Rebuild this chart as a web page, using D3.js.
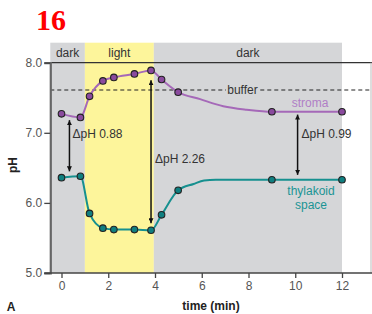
<!DOCTYPE html>
<html><head><meta charset="utf-8">
<script src="https://cdn.jsdelivr.net/npm/d3@7/dist/d3.min.js"></script>
<style>body{margin:0;background:#fff}svg{display:block}</style>
</head><body>
<svg id="c" width="372" height="314" font-family="Liberation Sans, Arial, sans-serif"></svg>
<script>
// measured points (markers)
const timeMin = [0, 0.81, 1.2, 1.77, 2.24, 3.12, 3.83, 4.28, 4.99, 9, 12];
const stromaPH = [7.27, 7.22, 7.52, 7.74, 7.79, 7.84, 7.89, 7.76, 7.58, 7.30, 7.30];
const thylakoidPH = [6.36, 6.38, 5.85, 5.64, 5.62, 5.62, 5.61, 5.83, 6.18, 6.33, 6.33];
// extra points (no markers there)
const stromaTraceTime = [5.93, 6.92, 7.92];
const stromaTracePH = [7.48, 7.38, 7.33];
const thylakoidTraceTime = [5.65, 6.1, 6.6];
const thylakoidTracePH = [6.27, 6.32, 6.33];
const xTicks = [0, 2, 4, 6, 8, 10, 12];
const yTicks = [5, 6, 7, 8];
const bufferPH = 7.61;
const periods = [
  {label: "dark", start: -0.48, end: 1.0},
  {label: "light", start: 1.0, end: 3.95},
  {label: "dark", start: 3.95, end: 12}
];
const deltaArrows = [
  {x: 0.34, low: 6.45, high: 7.18, label: "\u0394pH 0.88"},
  {x: 3.83, low: 5.71, high: 7.75, label: "\u0394pH 2.26"},
  {x: 10.1, low: 6.40, high: 7.26, label: "\u0394pH 0.99"}
];

const svg = d3.select("#c");
const x = d3.scaleLinear().domain([0, 12]).range([61.5, 342]);
const y = d3.scaleLinear().domain([5, 8]).range([273, 62.7]);
const xLeft = x(-0.48), xRight = 372, bandTop = 42.7;

svg.selectAll("rect.band").data(periods).join("rect")
  .attr("x", d => x(d.start)).attr("width", d => x(d.end) - x(d.start))
  .attr("y", bandTop).attr("height", y(5) - bandTop)
  .attr("fill", d => d.label === "light" ? "#fdf59b" : "#d5d6d8");
svg.selectAll("text.band").data(periods).join("text")
  .attr("x", d => (x(d.start) + x(d.end)) / 2).attr("y", 57)
  .attr("text-anchor", "middle").attr("font-size", 12).attr("fill", "#333")
  .text(d => d.label);

svg.append("line").attr("x1", xLeft).attr("x2", xRight).attr("y1", y(8)).attr("y2", y(8))
  .attr("stroke", "#333").attr("stroke-width", 1.2);
svg.append("line").attr("x1", 371).attr("x2", 371).attr("y1", y(8)).attr("y2", y(5))
  .attr("stroke", "#bbb").attr("stroke-width", 1);

svg.append("line").attr("x1", xLeft).attr("x2", xRight).attr("y1", y(bufferPH)).attr("y2", y(bufferPH))
  .attr("stroke", "#222").attr("stroke-width", 1.1).attr("stroke-dasharray", "4,3");
svg.append("rect").attr("x", 226).attr("y", y(bufferPH) - 6).attr("width", 33).attr("height", 12).attr("fill", "#d5d6d8");
svg.append("text").attr("x", 242.5).attr("y", y(bufferPH) + 4).attr("text-anchor", "middle")
  .attr("font-size", 12).attr("fill", "#333").text("buffer");

const yAxis = svg.append("g").attr("transform", `translate(${xLeft},0)`)
  .call(d3.axisLeft(y).tickValues(yTicks).tickFormat(d3.format(".1f")).tickSize(6).tickPadding(2));
yAxis.attr("font-family", null);
yAxis.select(".domain").attr("stroke", "#666").attr("stroke-width", 2.2);
yAxis.selectAll(".tick line").attr("stroke", "#444").attr("stroke-width", 1.3);
yAxis.selectAll(".tick text").attr("font-size", 12).attr("fill", "#555");

const xAxis = svg.append("g").attr("transform", `translate(0,${y(5)})`)
  .call(d3.axisBottom(x).tickValues(xTicks).tickSize(5).tickPadding(3).tickSizeOuter(0));
xAxis.attr("font-family", null);
xAxis.select(".domain").remove();
svg.append("line").attr("x1", xLeft - 6).attr("x2", xRight).attr("y1", y(5)).attr("y2", y(5))
  .attr("stroke", "#444").attr("stroke-width", 1.4);
xAxis.selectAll(".tick line").attr("stroke", "#444").attr("stroke-width", 1.3);
xAxis.selectAll(".tick text").attr("font-size", 12).attr("fill", "#555");

svg.append("text").attr("transform", "translate(17,165) rotate(-90)").attr("text-anchor", "middle")
  .attr("font-size", 12).attr("font-weight", "bold").attr("fill", "#222").text("pH");
svg.append("text").attr("x", 211).attr("y", 310).attr("text-anchor", "middle")
  .attr("font-size", 12).attr("font-weight", "bold").attr("fill", "#222").text("time (min)");
svg.append("text").attr("x", 11).attr("y", 311).attr("text-anchor", "middle")
  .attr("font-size", 12).attr("font-weight", "bold").attr("fill", "#222").text("A");

function trace(t, v, tt, tv) {
  return t.map((d, i) => [d, v[i]]).concat(tt.map((d, i) => [d, tv[i]])).sort((a, b) => a[0] - b[0]);
}
const line = d3.line().curve(d3.curveMonotoneX).x(d => x(d[0])).y(d => y(d[1]));
const series = [
  {vals: stromaPH, path: trace(timeMin, stromaPH, stromaTraceTime, stromaTracePH), stroke: "#a569b8", fill: "#8a4a9e"},
  {vals: thylakoidPH, path: trace(timeMin, thylakoidPH, thylakoidTraceTime, thylakoidTracePH), stroke: "#16908f", fill: "#0f7f80"}
];
series.forEach(s => {
  svg.append("path").attr("d", line(s.path)).attr("fill", "none")
    .attr("stroke", s.stroke).attr("stroke-width", 2);
  svg.selectAll(null).data(s.vals).join("circle")
    .attr("cx", (d, i) => x(timeMin[i])).attr("cy", d => y(d)).attr("r", 3.3)
    .attr("fill", s.fill).attr("stroke", "#222").attr("stroke-width", 1.1);
});

svg.append("text").attr("x", 310).attr("y", 107).attr("text-anchor", "middle")
  .attr("font-size", 12).attr("fill", "#b07ec6").text("stroma");
const tl = svg.append("text").attr("text-anchor", "middle").attr("font-size", 12).attr("fill", "#1b9494");
tl.append("tspan").attr("x", 311).attr("y", 195).text("thylakoid");
tl.append("tspan").attr("x", 311).attr("y", 208.5).text("space");

const defs = svg.append("defs");
defs.append("marker").attr("id", "ah").attr("viewBox", "0 0 10 10").attr("refX", 10).attr("refY", 5)
  .attr("markerWidth", 5).attr("markerHeight", 5).attr("markerUnits", "userSpaceOnUse")
  .attr("orient", "auto-start-reverse")
  .append("path").attr("d", "M0,0 L10,5 L0,10 Z").attr("fill", "#111");
deltaArrows.forEach(a => {
  svg.append("line").attr("x1", x(a.x)).attr("x2", x(a.x)).attr("y1", y(a.low)).attr("y2", y(a.high))
    .attr("stroke", "#111").attr("stroke-width", 1.5)
    .attr("marker-start", "url(#ah)").attr("marker-end", "url(#ah)");
});
const labelPos = [[72.5, 138], [155, 163], [301.5, 138]];
svg.selectAll("text.dl").data(deltaArrows).join("text")
  .attr("x", (d, i) => labelPos[i][0]).attr("y", (d, i) => labelPos[i][1])
  .attr("font-size", 12).attr("fill", "#333").text(d => d.label);

svg.append("text").attr("x", 36).attr("y", 30)
  .style("font-family", "'Liberation Serif', 'Times New Roman', serif")
  .attr("font-size", 30).attr("font-weight", "bold").attr("fill", "#f00").text("16");
</script>
</body></html>
